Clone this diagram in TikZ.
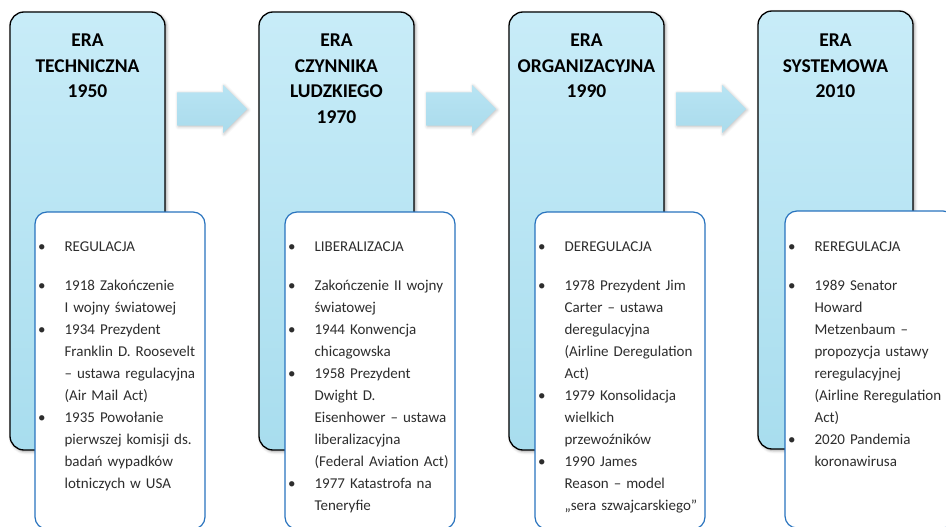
\documentclass[tikz,border=0pt]{standalone}
\usepackage{fontspec}
\setmainfont{Carlito}
\usetikzlibrary{shapes.arrows}
\usetikzlibrary{shadows.blur}
\definecolor{eratop}{RGB}{200,236,248}
\definecolor{erabot}{RGB}{168,221,238}
\definecolor{arrowtop}{RGB}{184,228,243}
\definecolor{arrowbot}{RGB}{170,219,236}
\definecolor{listblue}{RGB}{40,115,190}
\definecolor{listgray}{RGB}{45,45,45}
\newcommand{\itm}{\par\noindent\llap{\textbullet\hspace{19pt}}}

\begin{document}
\begin{tikzpicture}[x=1pt,y=-1pt,
  erabox/.style={draw=black, line width=1.3pt, rounded corners=14pt,
    top color=eratop, bottom color=erabot, minimum width=155pt,
    minimum height=438pt, inner sep=0pt,
    blur shadow={shadow xshift=1.5pt, shadow yshift=-1.5pt, shadow blur radius=3pt}},
  eratitle/.style={anchor=north, align=center, inner sep=0pt,
    font=\fontsize{19.5}{25.5}\selectfont\bfseries},
  listbox/.style={draw=listblue, line width=1.2pt, rounded corners=12pt,
    fill=white, minimum width=170pt, minimum height=317pt, inner sep=0pt},
  listtext/.style={anchor=north west, text width=150pt, align=left, inner sep=0pt,
    text=listgray, font=\fontsize{15}{22}\selectfont},
  flowarrow/.style={shape=single arrow, anchor=tail, top color=arrowtop,
    bottom color=arrowbot, minimum height=70pt, inner xsep=0pt, inner ysep=16.5pt,
    single arrow head extend=7.5pt,
    blur shadow={shadow xshift=1pt, shadow yshift=-1pt,
    shadow opacity=25, shadow blur radius=3pt}}]

\useasboundingbox (0,0) rectangle (946,527);
\clip (0,0) rectangle (946,527);

% eras
\node [erabox] (era1) at (87.5,231) {};
\node [erabox] (era2) at (336.5,231) {};
\node [erabox] (era3) at (586.5,231) {};
\node [erabox] (era4) at (835.5,230) {};

\node [eratitle] (title1) at ([yshift=-22.5pt]era1.north) {ERA\\TECHNICZNA\\1950};
\node [eratitle] (title2) at ([yshift=-22.5pt]era2.north) {ERA\\CZYNNIKA\\LUDZKIEGO\\1970};
\node [eratitle] (title3) at ([yshift=-22.5pt]era3.north) {ERA\\ORGANIZACYJNA\\1990};
\node [eratitle] (title4) at ([yshift=-23.5pt]era4.north) {ERA\\SYSTEMOWA\\2010};

\foreach \i/\x in {1/177,2/426,3/676} {\node [flowarrow] (arrow\i) at (\x,109) {};}

% lists
\node [listbox] (list1) at (120,370.5) {};
\node [listbox] (list2) at (370,370.5) {};
\node [listbox] (list3) at (620,370.5) {};
\node [listbox] (list4) at (870,369.5) {};

\node [listtext] (text1) at ([shift={(30,18)}]list1.north west) {%
\itm REGULACJA\par\vspace{17pt}
\itm 1918 Zakończenie\\I wojny światowej
\itm 1934 Prezydent\\Franklin D. Roosevelt\\– ustawa regulacyjna\\(Air Mail Act)
\itm 1935 Powołanie\\pierwszej komisji ds.\\badań wypadków\\lotniczych w USA};

\node [listtext] (text2) at ([shift={(30,18)}]list2.north west) {%
\itm LIBERALIZACJA\par\vspace{17pt}
\itm Zakończenie II wojny\\światowej
\itm 1944 Konwencja\\chicagowska
\itm 1958 Prezydent\\Dwight D.\\Eisenhower – ustawa\\liberalizacyjna\\(Federal Aviation Act)
\itm 1977 Katastrofa na\\Teneryfie};

\node [listtext] (text3) at ([shift={(30,18)}]list3.north west) {%
\itm DEREGULACJA\par\vspace{17pt}
\itm 1978 Prezydent Jim\\Carter – ustawa\\deregulacyjna\\(Airline Deregulation\\Act)
\itm 1979 Konsolidacja\\wielkich\\przewoźników
\itm 1990 James\\Reason – model\\„sera szwajcarskiego”};

\node [listtext] (text4) at ([shift={(30,19)}]list4.north west) {%
\itm REREGULACJA\par\vspace{17pt}
\itm 1989 Senator\\Howard\\Metzenbaum –\\propozycja ustawy\\reregulacyjnej\\(Airline Reregulation\\Act)
\itm 2020 Pandemia\\koronawirusa};

\end{tikzpicture}
\end{document}
